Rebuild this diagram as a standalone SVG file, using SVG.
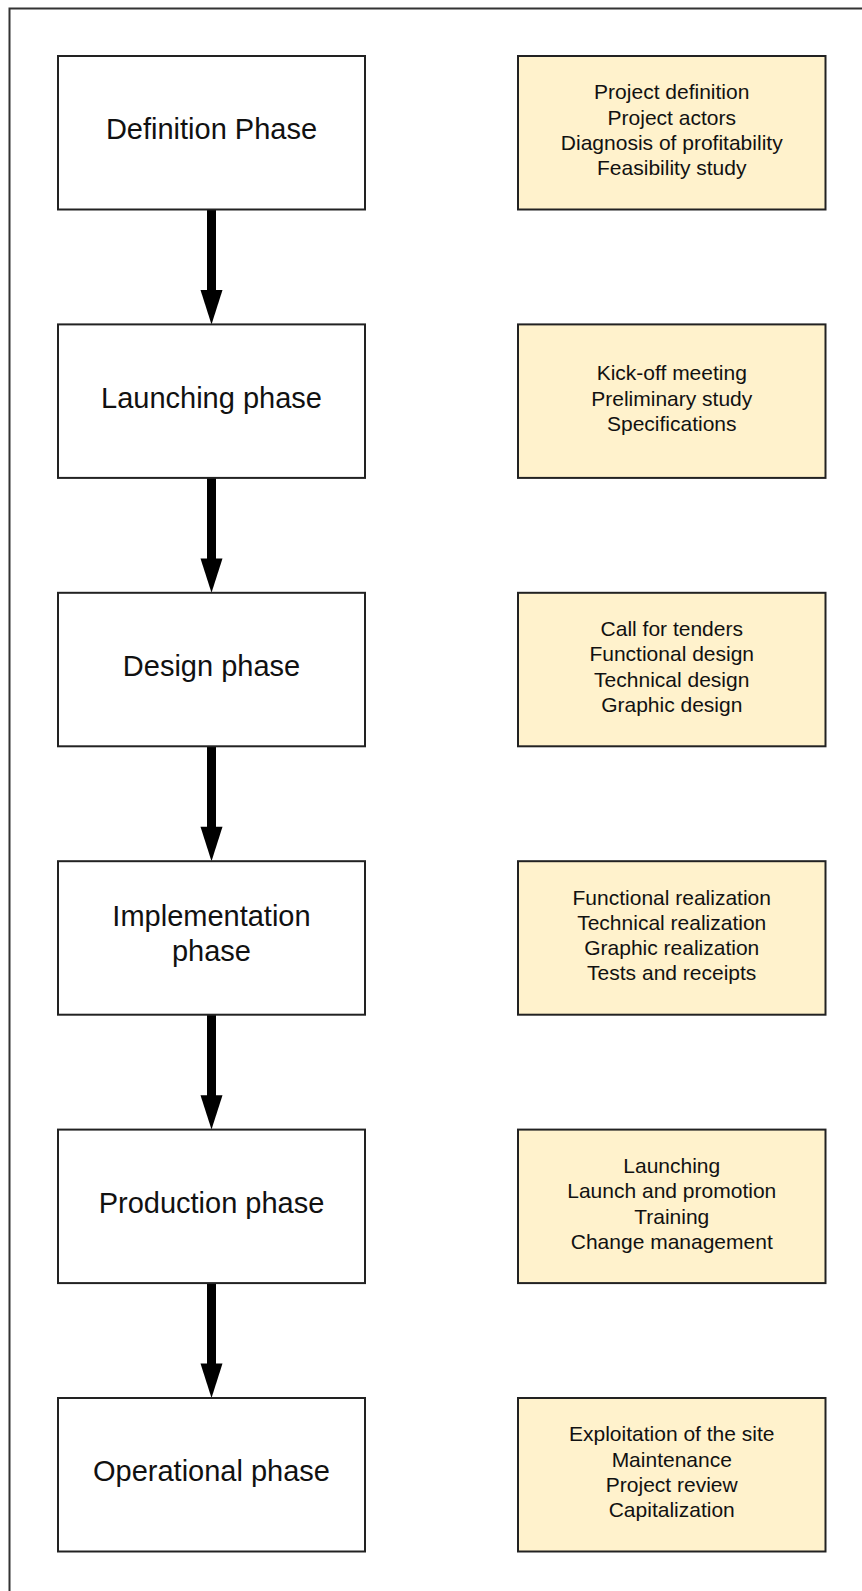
<svg xmlns="http://www.w3.org/2000/svg" width="862" height="1591" viewBox="0 0 862 1591">
<style>
.frame{fill:none;stroke:#333;stroke-width:2}
.phase{fill:#fff;stroke:#222;stroke-width:2}
.info{fill:#fff2cc;stroke:#222;stroke-width:2}
.pt{font-family:"Liberation Sans",Arial,sans-serif;font-size:29px;fill:#111;text-anchor:middle}
.it{font-family:"Liberation Sans",Arial,sans-serif;font-size:21px;fill:#111;text-anchor:middle}
.shaft{stroke:#000;stroke-width:9;fill:none}
.head{fill:#000}
</style>
<rect width="862" height="1591" fill="#fff"/>
<rect class="frame" x="9.5" y="8.5" width="870" height="1600"/>

<g id="connectors">
<line class="shaft" x1="211.5" y1="209.5" x2="211.5" y2="292"/><polygon class="head" points="200.5,290 222.5,290 211.5,324.4"/>
<line class="shaft" x1="211.5" y1="477.9" x2="211.5" y2="560.4"/><polygon class="head" points="200.5,558.4 222.5,558.4 211.5,592.8"/>
<line class="shaft" x1="211.5" y1="746.3" x2="211.5" y2="828.8"/><polygon class="head" points="200.5,826.8 222.5,826.8 211.5,861.2"/>
<line class="shaft" x1="211.5" y1="1014.7" x2="211.5" y2="1097.2"/><polygon class="head" points="200.5,1095.2 222.5,1095.2 211.5,1129.6"/>
<line class="shaft" x1="211.5" y1="1283.1" x2="211.5" y2="1365.6"/><polygon class="head" points="200.5,1363.6 222.5,1363.6 211.5,1398"/>
</g>

<g id="definition-phase">
<rect class="phase" x="58" y="56" width="307" height="153.5"/>
<text class="pt" x="211.5" y="139.3">Definition Phase</text>
</g>
<g id="definition-tasks">
<rect class="info" x="518" y="56" width="307.5" height="153.5"/>
<text class="it" x="671.75" y="99.3">Project definition</text>
<text class="it" x="671.75" y="124.6">Project actors</text>
<text class="it" x="671.75" y="149.9">Diagnosis of profitability</text>
<text class="it" x="671.75" y="175.2">Feasibility study</text>
</g>

<g id="launching-phase">
<rect class="phase" x="58" y="324.4" width="307" height="153.5"/>
<text class="pt" x="211.5" y="407.7">Launching phase</text>
</g>
<g id="launching-tasks">
<rect class="info" x="518" y="324.4" width="307.5" height="153.5"/>
<text class="it" x="671.75" y="380.4">Kick-off meeting</text>
<text class="it" x="671.75" y="405.7">Preliminary study</text>
<text class="it" x="671.75" y="431">Specifications</text>
</g>

<g id="design-phase">
<rect class="phase" x="58" y="592.8" width="307" height="153.5"/>
<text class="pt" x="211.5" y="676.1">Design phase</text>
</g>
<g id="design-tasks">
<rect class="info" x="518" y="592.8" width="307.5" height="153.5"/>
<text class="it" x="671.75" y="636.1">Call for tenders</text>
<text class="it" x="671.75" y="661.4">Functional design</text>
<text class="it" x="671.75" y="686.7">Technical design</text>
<text class="it" x="671.75" y="712">Graphic design</text>
</g>

<g id="implementation-phase">
<rect class="phase" x="58" y="861.2" width="307" height="153.5"/>
<text class="pt" x="211.5" y="925.7">Implementation</text>
<text class="pt" x="211.5" y="960.7">phase</text>
</g>
<g id="implementation-tasks">
<rect class="info" x="518" y="861.2" width="307.5" height="153.5"/>
<text class="it" x="671.75" y="904.5">Functional realization</text>
<text class="it" x="671.75" y="929.8">Technical realization</text>
<text class="it" x="671.75" y="955.1">Graphic realization</text>
<text class="it" x="671.75" y="980.4">Tests and receipts</text>
</g>

<g id="production-phase">
<rect class="phase" x="58" y="1129.6" width="307" height="153.5"/>
<text class="pt" x="211.5" y="1212.9">Production phase</text>
</g>
<g id="production-tasks">
<rect class="info" x="518" y="1129.6" width="307.5" height="153.5"/>
<text class="it" x="671.75" y="1172.9">Launching</text>
<text class="it" x="671.75" y="1198.2">Launch and promotion</text>
<text class="it" x="671.75" y="1223.5">Training</text>
<text class="it" x="671.75" y="1248.8">Change management</text>
</g>

<g id="operational-phase">
<rect class="phase" x="58" y="1398" width="307" height="153.5"/>
<text class="pt" x="211.5" y="1481.3">Operational phase</text>
</g>
<g id="operational-tasks">
<rect class="info" x="518" y="1398" width="307.5" height="153.5"/>
<text class="it" x="671.75" y="1441.3">Exploitation of the site</text>
<text class="it" x="671.75" y="1466.6">Maintenance</text>
<text class="it" x="671.75" y="1491.9">Project review</text>
<text class="it" x="671.75" y="1517.2">Capitalization</text>
</g>
</svg>
